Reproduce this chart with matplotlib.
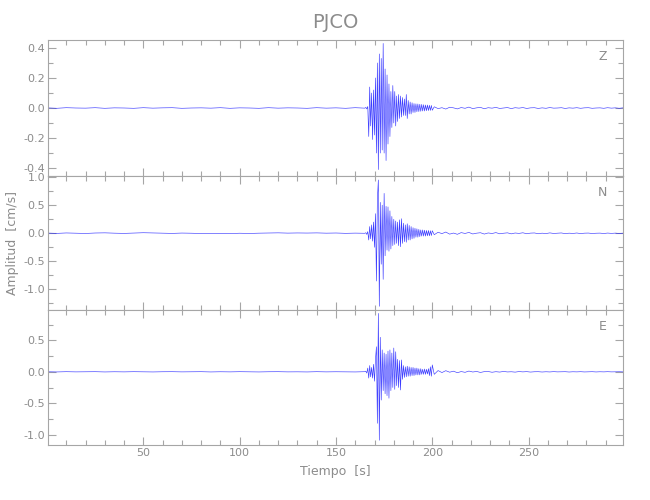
import numpy as np
import matplotlib
matplotlib.use('Agg')
import matplotlib.pyplot as plt
from matplotlib.ticker import MultipleLocator, FormatStrFormatter

plt.rcParams['font.family'] = ['DejaVu Sans']

station = 'PJCO'
components = ['Z', 'N', 'E']

# sample times (s): quiet part, strong motion, coda
t_pre = np.arange(0, 166, 5)
t_event = np.arange(165.5, 200.5, 0.5)
t_coda = np.arange(201, 300, 2)

# amplitudes (cm/s)
z_pre = [0.001, -0.002, 0.002, 0.000, -0.001, 0.002, -0.002, 0.001, 0.000, -0.002,
         0.002, -0.001, 0.001, 0.002, -0.002, 0.000, 0.001, -0.001, 0.002, -0.002,
         0.001, 0.000, -0.002, 0.002, -0.001, 0.001, 0.000, -0.002, 0.002, -0.001,
         0.001, -0.002, 0.002, -0.001]
z_event = [0.004, -0.006, 0.01, -0.19, 0.14, -0.12, 0.10, -0.21, 0.12, -0.18,
           0.20, -0.30, 0.30, -0.41, 0.36, -0.30, 0.33, -0.28, 0.43, -0.30,
           0.26, -0.35, 0.22, -0.24, 0.16, -0.19, 0.11, -0.13, 0.15, -0.10,
           0.11, -0.12, 0.08, -0.09, 0.09, -0.07, 0.08, -0.06, 0.07, -0.05,
           0.06, -0.05, 0.09, -0.07, 0.05, -0.04, 0.04, -0.04, 0.035, -0.03,
           0.03, -0.03, 0.028, -0.025, 0.027, -0.024, 0.025, -0.022, 0.024, -0.02,
           0.022, -0.02, 0.02, -0.018, 0.02, -0.017, 0.018, -0.016, 0.017, -0.015]
z_coda = [0.008, -0.004, 0.002, -0.007, 0.005, 0.001, -0.006, 0.003, -0.002, 0.006,
          -0.004, 0.001, 0.004, -0.005, 0.002, -0.001, 0.004, -0.003, 0.000, 0.003,
          -0.004, 0.002, -0.001, 0.003, -0.003, 0.001, 0.002, -0.003, 0.001, -0.002,
          0.003, -0.001, 0.000, 0.002, -0.003, 0.001, -0.001, 0.002, -0.002, 0.001,
          0.002, -0.002, 0.000, 0.001, -0.002, 0.002, -0.001, 0.001, -0.002, 0.001]

n_pre = [0.004, -0.002, 0.006, 0.002, -0.003, 0.005, 0.008, 0.002, -0.002, 0.004,
         0.010, 0.006, 0.003, -0.002, 0.004, 0.001, -0.004, -0.006, -0.002, -0.005,
         0.001, -0.003, 0.002, 0.005, 0.008, 0.003, 0.006, 0.004, 0.007, 0.002,
         0.005, -0.001, 0.003, 0.000]
n_event = [0.01, -0.02, 0.03, -0.12, 0.12, -0.10, 0.15, -0.14, 0.20, -0.25,
           0.35, -0.85, 0.62, 0.95, -1.30, 0.55, -0.55, 0.50, -0.82, 0.71,
           -0.40, 0.48, -0.30, 0.47, -0.32, 0.40, -0.28, 0.30, -0.22, 0.25,
           -0.20, 0.22, -0.18, 0.20, -0.22, 0.24, -0.24, 0.26, -0.18, 0.18,
           -0.15, 0.15, -0.16, 0.17, -0.12, 0.14, -0.12, 0.12, -0.10, 0.10,
           -0.09, 0.09, -0.07, 0.08, -0.07, 0.07, -0.06, 0.06, -0.05, 0.06,
           -0.05, 0.055, -0.05, 0.05, -0.045, 0.05, -0.045, 0.045, -0.04, 0.045]
n_coda = [-0.025, 0.018, -0.006, 0.022, -0.015, 0.004, -0.018, 0.012, -0.003, 0.015,
          -0.012, 0.002, 0.010, -0.014, 0.006, -0.004, 0.012, -0.009, 0.001, 0.008,
          -0.010, 0.005, -0.002, 0.009, -0.008, 0.003, 0.006, -0.008, 0.002, -0.005,
          0.007, -0.003, 0.001, 0.006, -0.007, 0.002, -0.003, 0.005, -0.005, 0.002,
          0.004, -0.004, 0.001, 0.003, -0.004, 0.004, -0.002, 0.003, -0.003, 0.002]

e_pre = [0.001, -0.002, 0.002, -0.001, 0.000, 0.002, -0.002, 0.001, -0.001, 0.002,
         0.000, -0.002, 0.001, 0.002, -0.001, 0.000, 0.002, -0.002, 0.001, -0.001,
         0.002, 0.000, -0.002, 0.001, 0.002, -0.001, 0.000, -0.002, 0.002, -0.001,
         0.001, 0.000, -0.002, 0.002]
e_event = [0.01, -0.02, 0.06, -0.10, 0.10, -0.08, 0.07, -0.10, 0.12, -0.15,
           0.20, 0.40, -0.82, 0.93, -1.09, 0.55, -0.45, 0.35, -0.30, 0.30,
           -0.35, 0.28, -0.38, 0.33, -0.42, 0.35, -0.30, 0.30, -0.25, 0.38,
           -0.28, 0.32, -0.22, 0.20, -0.25, 0.18, -0.29, 0.19, -0.12, 0.10,
           -0.09, 0.08, -0.08, 0.09, -0.07, 0.08, -0.07, 0.07, -0.06, 0.07,
           -0.06, 0.06, -0.05, 0.06, -0.05, 0.05, -0.05, 0.05, -0.04, 0.04,
           -0.04, 0.045, -0.04, 0.04, -0.035, 0.05, -0.06, 0.08, -0.07, 0.11]
e_coda = [-0.04, 0.02, -0.012, 0.018, -0.006, 0.010, -0.014, 0.004, -0.008, 0.012,
          -0.003, 0.006, -0.010, 0.003, 0.005, -0.007, 0.002, -0.004, 0.006, -0.002,
          0.001, -0.005, 0.004, -0.001, 0.003, -0.004, 0.001, 0.002, -0.003, 0.001,
          -0.002, 0.003, -0.001, 0.000, 0.002, -0.003, 0.001, -0.001, 0.002, -0.002,
          0.000, 0.002, -0.002, 0.001, -0.001, 0.002, -0.001, 0.000, 0.001, -0.001]

traces = [z_pre + z_event + z_coda, n_pre + n_event + n_coda, e_pre + e_event + e_coda]
t = np.concatenate([t_pre, t_event, t_coda])

ylims = [(-0.453, 0.453), (-1.366, 1.02), (-1.166, 0.985)]
ymajor = [0.2, 0.5, 0.5]
yminor = [0.1, 0.25, 0.25]

grey = '#8c8c8c'
axis_grey = '#a6a6a6'

fig = plt.figure(figsize=(6.5, 5), dpi=100)
bounds = [(0.648, 0.272), (0.38, 0.268), (0.11, 0.27)]

axes = []
for i, comp in enumerate(components):
    ax = fig.add_axes([0.0738, bounds[i][0], 0.8847, bounds[i][1]])
    ax.plot(t, traces[i], color='#1a1aff', lw=0.45, alpha=0.85)
    ax.set_xlim(0.5, 299)
    ax.set_ylim(*ylims[i])
    ax.xaxis.set_major_locator(MultipleLocator(50))
    ax.xaxis.set_minor_locator(MultipleLocator(10))
    ax.yaxis.set_major_locator(MultipleLocator(ymajor[i]))
    ax.yaxis.set_minor_locator(MultipleLocator(yminor[i]))
    ax.yaxis.set_major_formatter(FormatStrFormatter('%.1f'))
    ax.tick_params(which='both', direction='in', top=True, right=True,
                   color=axis_grey, labelcolor=grey, labelsize=8, width=0.8, pad=2)
    ax.tick_params(which='major', length=6)
    ax.tick_params(which='minor', length=3.5)
    for s in ax.spines.values():
        s.set_color(axis_grey)
        s.set_linewidth(0.8)
    if i < 2:
        ax.tick_params(labelbottom=False)
    ax.text(0.965, 0.88, comp, transform=ax.transAxes, color=grey, fontsize=9,
            ha='center', va='center')
    axes.append(ax)

axes[0].set_title(station, color=grey, fontsize=14, pad=9)
axes[1].set_ylabel('Amplitud  [cm/s]', color=grey, fontsize=9, labelpad=3)
axes[2].set_xlabel('Tiempo  [s]', color=grey, fontsize=9, labelpad=5)

fig.savefig('out.png', dpi=100)
